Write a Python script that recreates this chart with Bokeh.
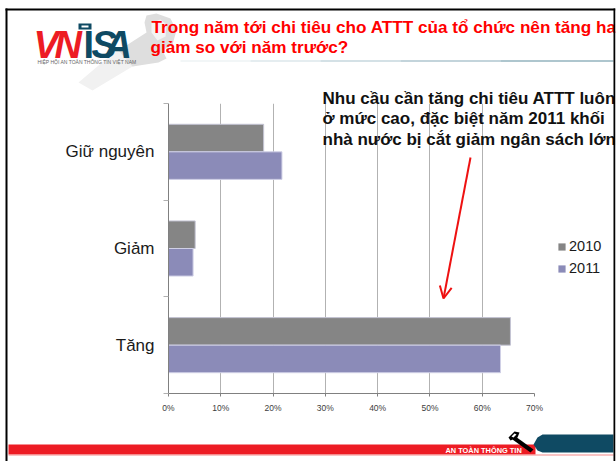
from bokeh.core.properties import value
from bokeh.embed import file_html
from bokeh.resources import INLINE
from bokeh.plotting import figure
from bokeh.models import Range1d, FixedTicker, Arrow, OpenHead, Legend, LegendItem

categories = ["Tăng", "Giảm", "Giữ nguyên"]
series_names = ["2010", "2011"]
values_2010 = [65.4, 5.1, 18.2]
values_2011 = [63.5, 4.7, 21.7]
x_ticks = [0, 10, 20, 30, 40, 50, 60, 70]
title_lines = ["Trong năm tới chi tiêu cho ATTT của tổ chức nên tăng hay", "giảm so với năm trước?"]
note_lines = ["Nhu cầu cần tăng chi tiêu ATTT luôn", "ở mức cao, đặc biệt năm 2011 khối", "nhà nước bị cắt giảm ngân sách lớn"]

FONT = "Liberation Sans"
pos = [i + 0.5 for i in range(len(categories))]
BAR = 0.285
C2010, C2011 = "#858585", "#8b8bb8"

p = figure(width=616, height=461, output_backend="svg", toolbar_location=None,
           x_range=Range1d(0, 70), y_range=Range1d(0, 3),
           min_border_left=168, min_border_right=82, min_border_top=103, min_border_bottom=68,
           outline_line_color=None, background_fill_color="white", border_fill_color="white")

p.hbar(y=[v + BAR / 2 for v in pos], right=values_2010, left=0, height=BAR,
       fill_color=C2010, line_color="#c4c4d4", line_width=1)
p.hbar(y=[v - BAR / 2 for v in pos], right=values_2011, left=0, height=BAR,
       fill_color=C2011, line_color="#d0d0e6", line_width=1)

p.ygrid.visible = False
p.xgrid.grid_line_color = "#b2b2b2"
p.xgrid.ticker = FixedTicker(ticks=x_ticks)

xa = p.xaxis[0]
xa.ticker = FixedTicker(ticks=x_ticks)
xa.major_label_overrides = {t: f"{t}%" for t in x_ticks}
xa.major_label_text_font = FONT
xa.major_label_text_font_size = "8.5px"
xa.major_label_text_color = "#404040"
xa.major_tick_out = 3
xa.major_tick_in = 0
xa.minor_tick_out = 0
xa.minor_tick_in = 0
xa.major_label_standoff = 6
xa.axis_line_color = "#808080"
xa.major_tick_line_color = "#808080"

ya = p.yaxis[0]
ya.ticker = FixedTicker(ticks=pos, minor_ticks=[0, 1, 2, 3])
ya.major_label_overrides = {v: c for v, c in zip(pos, categories)}
ya.major_label_text_font = FONT
ya.major_label_text_font_size = "17px"
ya.major_label_text_color = "#1a1a1a"
ya.major_tick_out = 0
ya.major_tick_in = 0
ya.minor_tick_out = 5
ya.minor_tick_in = 0
ya.minor_tick_line_color = "#b0b0b0"
ya.major_label_standoff = 9
ya.axis_line_color = "#808080"

# transparent layer in page pixels for everything around the chart
d = figure(width=616, height=461, output_backend="svg", toolbar_location=None,
           x_range=Range1d(0, 616), y_range=Range1d(461, 0), x_axis_type=None, y_axis_type=None,
           min_border=0, outline_line_color=None, background_fill_alpha=0, border_fill_alpha=0)
d.grid.visible = False
d.styles = {"position": "absolute", "left": "0px", "top": "0px"}


def box(l, t, r, b, color, alpha=1.0):
    return d.quad(left=[l], right=[r], top=[t], bottom=[b], fill_color=color, fill_alpha=alpha, line_color=None)


def poly(xs, ys, color, alpha=1.0):
    d.patch(xs, ys, fill_color=color, fill_alpha=alpha, line_color=None)


def text(x, y, s, size, color, style="normal", font=FONT):
    # y is the wanted baseline; the reversed pixel range places the text about a cap-height half lower
    d.text(x=[x], y=[y - size * 0.36], text=[s], text_font=value(font), text_font_size=value(f"{size}px"), text_color=color,
           text_font_style=style, text_align="left", text_baseline="alphabetic")


# watermark key behind the logo and title
poly([78, 118, 150, 160, 132, 92], [82, 48, 36, 60, 66, 90], "#f1f1f1")
poly([118, 146, 144, 146, 156, 170, 176, 172, 162, 166, 158, 132], [50, 32, 22, 15, 13, 18, 30, 44, 50, 58, 62, 66], "#dedede")
poly([151, 160, 166, 165, 157, 151], [22, 19, 24, 36, 40, 32], "#f4f4f4")

# logo
text(33, 58, "V", 38, "#ed1c24", "bold italic")
text(54, 58, "N", 38, "#ed1c24", "bold italic")
text(83, 58, "I", 38, "#0f4a63", "bold")
text(91, 58, "S", 38, "#0f4a63", "bold italic")
text(104, 58, "A", 38, "#0f4a63", "bold italic")
box(78, 23, 91, 29, "#0f4a63")
box(81, 25, 88, 27, "#ffffff")
text(37, 63.5, "HIỆP HỘI AN TOÀN THÔNG TIN VIỆT NAM", 5, "#666666")

# rule under the title
for l, r, c in [(180, 250, "#e6edf0"), (250, 320, "#ccdbe1"), (320, 400, "#aac3cd"), (400, 500, "#88aab8"), (500, 613, "#5f8d9e")]:
    box(l, 60, r, 61, c)

text(151, 33, title_lines[0], 17.15, "#ff0000", "bold")
text(150, 52.5, title_lines[1], 17.15, "#ff0000", "bold")

text(322, 104, note_lines[0], 17, "#111111", "bold")
text(322, 124, note_lines[1], 17, "#111111", "bold")
text(322, 145, note_lines[2], 17, "#111111", "bold")

d.add_layout(Arrow(x_start=470, y_start=157, x_end=443, y_end=298,
                   line_color="#ee1111", line_width=2,
                   end=OpenHead(size=12, line_color="#ee1111", line_width=2)))

# legend (keys take their look from two quads that lie outside the page)
k10 = box(-20, -20, -10, -10, C2010)
k11 = box(-20, -20, -10, -10, C2011)
legend = Legend(items=[LegendItem(label=series_names[0], renderers=[k10]), LegendItem(label=series_names[1], renderers=[k11])],
                location=(557, 184), background_fill_alpha=0, border_line_color=None,
                glyph_width=9, glyph_height=9, label_text_font=FONT, label_text_font_size="14.5px",
                label_text_color="#1a1a1a", label_standoff=3, spacing=4, padding=2, margin=0,
                label_height=18)
d.add_layout(legend, "center")

# footer
box(8, 444, 535, 454, "#ed1c24")
box(8, 454, 613, 455, "#f58a8a")
poly([533, 537, 542, 613, 613, 542, 537, 533], [444, 437, 434, 434, 452, 452, 450, 444], "#0f4a63")
text(445, 452.5, "AN TOÀN THÔNG TIN", 7.4, "#ffffff", "bold")
poly([515, 533, 530, 512], [436, 449, 452, 439], "#000000")
poly([508, 514, 519, 517, 510], [437, 431, 432, 437, 440], "#000000")
poly([511, 514, 516, 513], [436, 433, 434, 437], "#ffffff")

# slide border
box(0, 0, 5, 461, "#ffffff")
box(5, 8, 7, 461, "#000000")
box(5, 8, 615, 10, "#000000")
box(613, 8, 615, 461, "#000000")
box(615, 0, 616, 461, "#ffffff")

html = file_html([p, d], INLINE).replace("</head>", "<style>html,body{margin:0;padding:0;overflow:hidden}</style></head>")
open("out.html", "w").write(html)
